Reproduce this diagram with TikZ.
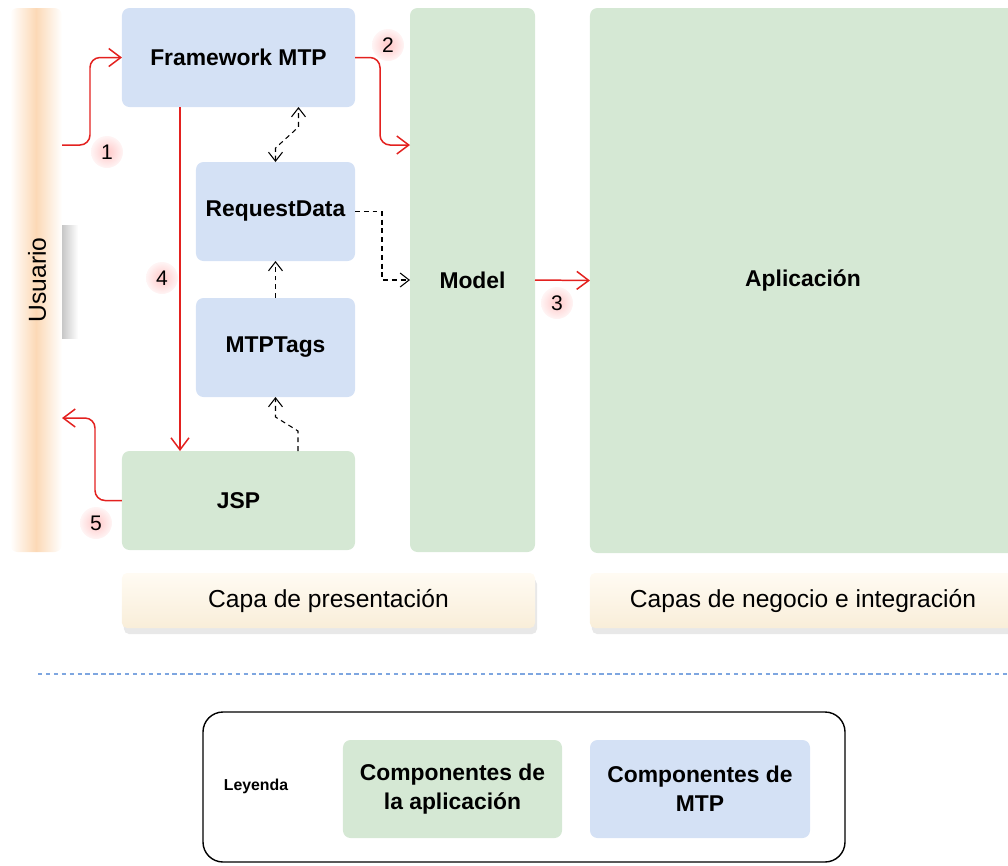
\documentclass[tikz,border=0pt]{standalone}
\usepackage{fontspec}
\setmainfont{Liberation Sans}
\usetikzlibrary{positioning, arrows.meta, shadows}

\definecolor{mtpblue}{HTML}{D4E1F5}
\definecolor{appgreen}{HTML}{D5E8D4}
\definecolor{flowred}{HTML}{E3211F}
\definecolor{userorange}{HTML}{FCD9B6}
\definecolor{layertop}{HTML}{FFFBF3}
\definecolor{layerbottom}{HTML}{F9EED9}
\definecolor{sepblue}{HTML}{7EA6E0}

\tikzset{
  comp/.style={rounded corners=1.5mm, inner sep=0pt, outer sep=0pt, align=center,
    font=\fontsize{13}{16.4}\selectfont\bfseries},
  mtpcomp/.style={comp, fill=mtpblue},
  appcomp/.style={comp, fill=appgreen},
  userbar/.style={rounded corners=1.5mm, inner sep=0pt, outer sep=0pt,
    left color=white, right color=white, middle color=userorange},
  layer/.style={rounded corners=1mm, inner sep=0pt, outer sep=0pt,
    top color=layertop, bottom color=layerbottom,
    drop shadow={shadow xshift=0.4mm, shadow yshift=-1.2mm, opacity=0.18},
    font=\fontsize{14}{16}\selectfont},
  flow/.style={draw=flowred, line width=0.85pt, rounded corners=2mm,
    -{Straight Barb[length=2.4mm, width=3.6mm]}},
  dep/.style={draw=black, line width=0.6pt, dash pattern=on 2.8pt off 2.2pt,
    -{Straight Barb[length=1.8mm, width=2.8mm]}},
  numcirc/.style={circle, minimum size=6.4mm, inner sep=0pt,
    inner color=red!22, outer color=red!4, font=\fontsize{12}{14}\selectfont},
}

\begin{document}
\begin{tikzpicture}[x=0.2mm, y=-0.2mm]
\path[use as bounding box, clip] (0,0) rectangle (1008,865);

% usuario
\node[userbar, minimum width=10.4mm, minimum height=108.8mm] (usuario) at (36,280) {};
\fill[left color=black!22, right color=white] (62,225) rectangle (78,338);
\node[rotate=90, font=\fontsize{14}{16}\selectfont] (usuariotxt) at (37,280) {Usuario};

% capa de presentacion
\node[mtpcomp, minimum width=46.6mm, minimum height=19.8mm] (fw) at (238.5,57.5) {Framework MTP};
\node[mtpcomp, minimum width=31.8mm, minimum height=19.8mm] (req) at (275.5,211.5) {RequestData};
\node[mtpcomp, minimum width=31.8mm, minimum height=19.8mm] (tags) at (275.5,347.5) {MTPTags};
\node[appcomp, minimum width=46.6mm, minimum height=19.8mm] (jsp) at (238.5,500.5) {JSP};

% negocio
\node[appcomp, minimum width=25mm, minimum height=108.8mm] (model) at (472.5,280) {Model};
\node[appcomp, minimum width=85.2mm, minimum height=109mm] (app) at (803,280.5) {Aplicación};

\node[layer, minimum width=82.6mm, minimum height=11mm] (presl) at (328.5,600.5) {Capa de presentación};
\node[layer, minimum width=85.2mm, minimum height=11mm] (busl) at (803,600.5) {Capas de negocio e integración};

\draw[sepblue, line width=0.7pt, dash pattern=on 2.5pt off 2pt] (38,674) -- (1008,674);

% leyenda
\node[draw, line width=0.8pt, rounded corners=4mm, minimum width=128.4mm, minimum height=30mm] (legend) at (524,787) {};
\node[font=\fontsize{9}{11}\selectfont\bfseries] (leyenda) at (256,786) {Leyenda};
\node[appcomp, minimum width=43.8mm, minimum height=19.6mm] (lgapp) at (452.5,789) {Componentes de\\la aplicación};
\node[mtpcomp, minimum width=44mm, minimum height=19.6mm] (lgmtp) at (700,789) {Componentes de\\MTP};

% flujo
\coordinate (u1) at (62,145);
\coordinate (u5) at (62,418);
\coordinate (m2) at (410,145);
\draw[flow] (u1) -- ++(28,0) |- (fw.west);
\draw[flow] (fw.east) -- ++(25,0) |- (m2);
\draw[flow] (model.east) -- (app.west);
\draw[flow] ([xshift=11.6mm]fw.south west) -- ([xshift=11.6mm]jsp.north west);
\draw[flow] (jsp.west) -- ++(-27,0) |- (u5);

\draw[dep, {Straight Barb[length=1.8mm, width=2.8mm]}-{Straight Barb[length=1.8mm, width=2.8mm]}]
  (req.north) -- ++(0,-14) -- ([xshift=12mm, yshift=-4mm]fw.south) -- ([xshift=12mm]fw.south);
\draw[dep] (tags.north) -- (req.south);
\draw[dep] ([xshift=11.9mm]jsp.north) -- ++(0,-20) -- ([yshift=-4mm]tags.south) -- (tags.south);
\draw[dep] (req.east) -- ++(27,0) |- (model.west);

\node[numcirc] (n1) at (107,152) {1};
\node[numcirc] (n2) at (388,45) {2};
\node[numcirc] (n3) at (557,303) {3};
\node[numcirc] (n4) at (162,278) {4};
\node[numcirc] (n5) at (96,523) {5};
\end{tikzpicture}
\end{document}
